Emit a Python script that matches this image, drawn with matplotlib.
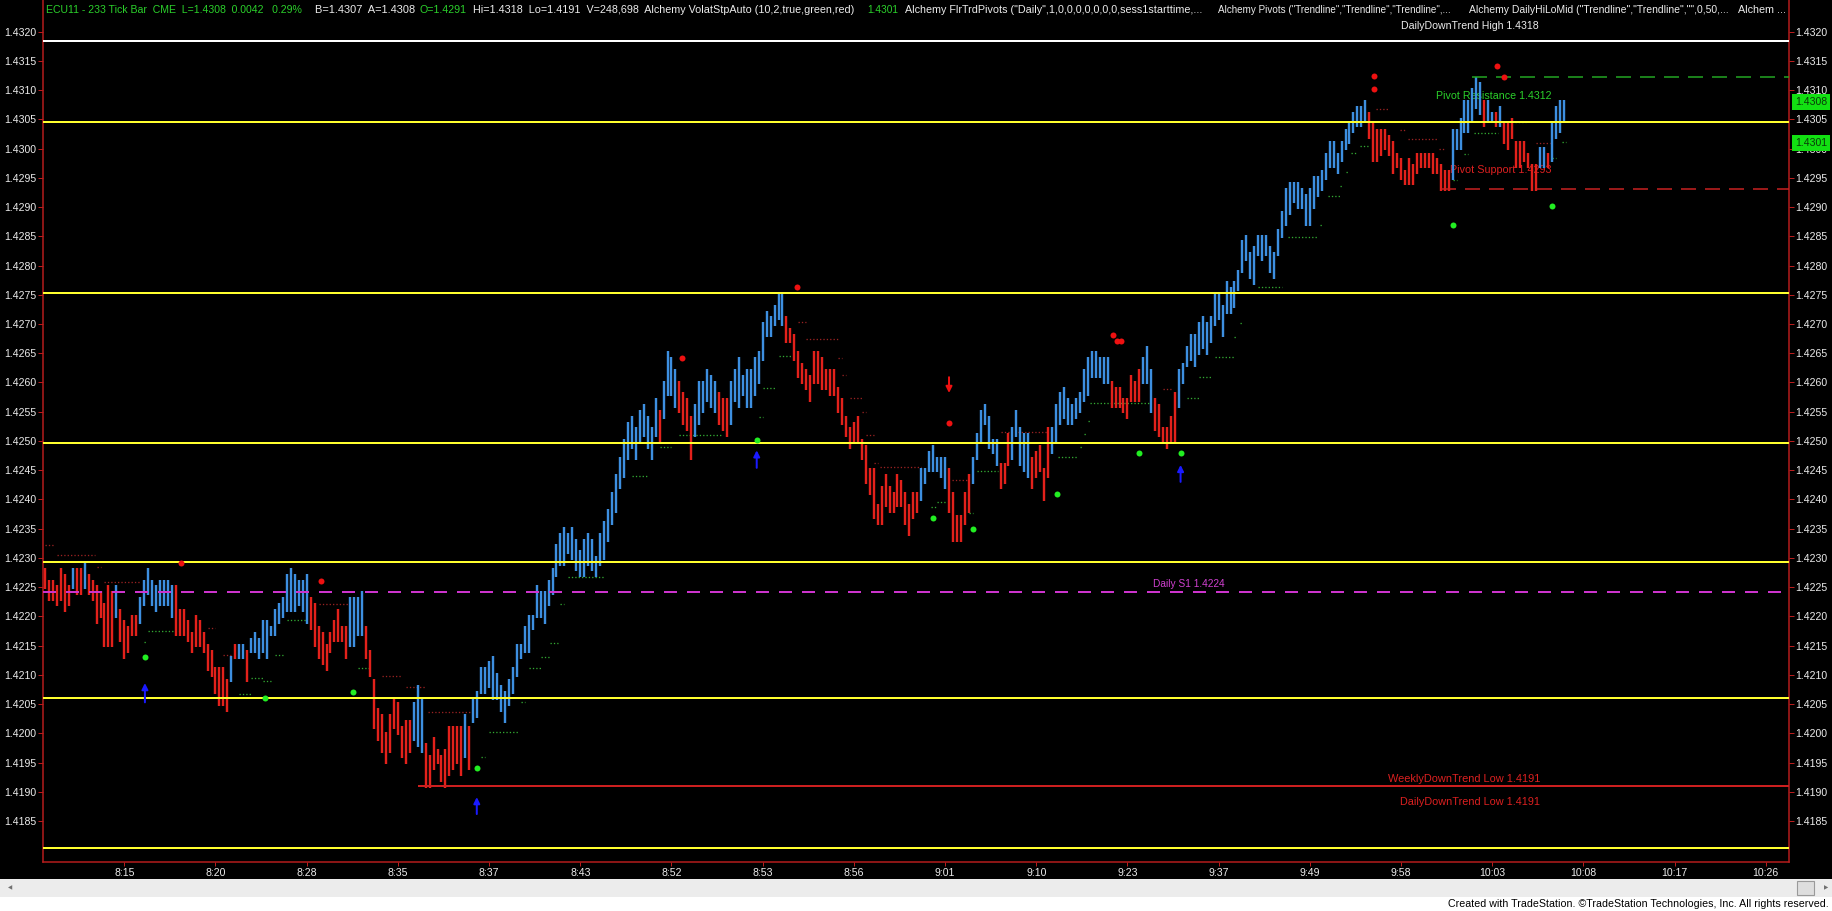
import matplotlib
matplotlib.use("Agg")
import matplotlib.pyplot as plt
from matplotlib import font_manager
from matplotlib.patches import Rectangle
from matplotlib.transforms import blended_transform_factory

# ---------------------------------------------------------------- data
BASE = 1.4200          # bar values below are pips (0.0001) above this base
PIP = 0.0001

bar_colors = (
    "rrrrrrrbrrbrrrrrrrbrrrrrbbbbbbbbbrrrrrrrrrrrrrrbrbbrbbbbbbbbbbbbbbbrrrrrrrrrrbbbbrr"
    "rrrrrrrrrrbbbrrrrrrrrrrbrbbbbbbbbbbbbbbbbbbbbbbb"
    "bbbbbbbbbb"
    "bbbbbbbbbbbbbbrbbbbrrrrbbbbbbrrrbb"
    "bbbbbbbbbbbb" "rrrrrrrrrrrrrrrrrrrrrrrrrrrrrrrrrr" "bbbbbbb" "rrrrrr" "bbbbbbb"
    "rrr" "bbbbb" "rrrrr" "bbbbbbbbbbbbbbb" "rrrrrrrr"
    "bbb" "rrrrrr" "bbbbbbbbbbbbbbbbbbbbbbbbbbbbbbbbbbbbbbbbbbbbbbbb" "rrrrrrrrrrrrrrrrrrrrr"
    "bbbbbbbb" "r" "bb" "r" "b" "rrrrrrrrr" "bb" "r" "bbbb"
)

bar_highs = [
    28, 26, 26, 25, 28, 27, 25, 28, 28, 28, 29, 27, 26, 25, 24, 22, 25, 24, 25, 21,
    19, 18, 20, 20, 23, 26, 28, 26, 25, 26, 26, 26, 25, 25, 21, 21, 19, 17, 20, 19,
    17, 15, 14, 11, 11, 11, 9, 13, 15, 15, 15, 14, 16, 17, 16, 19, 19, 18, 21, 22,
    23, 27, 28, 27, 26, 26, 27, 23, 22, 18, 17, 15, 17, 19, 21, 18, 18, 23, 23, 23,
    24, 18, 14,
    9, 4, 3, 0, 3, 6, 5, 1, 2, 2, 5, 8, 6, -2, -4, -1, -3, -4, -3, 1, 1, 1, 1, 3, 1,
    6, 7, 11, 11, 12, 13, 10, 8, 7, 9, 11, 15, 15, 18, 20, 20, 25, 24, 24, 26, 28, 32, 34,
    35, 34, 35, 33, 31, 33, 34, 33, 30, 34,
    36, 38, 41, 44, 47, 50, 53, 54, 52, 55, 56, 54, 52, 57, 55, 60, 65, 64, 62, 60,
    58, 57, 54, 56, 60, 60, 62, 61, 60, 58, 57, 57, 60, 62,
    64, 61, 62, 62, 64, 65, 70, 72, 71, 73, 75, 75,
    71, 69, 68, 65, 63, 62, 61, 65, 65, 64, 62, 62, 62, 59, 57, 54, 52, 53, 54, 50,
    49, 45, 45, 39, 42, 44, 42, 41, 44, 43, 41, 39, 41, 41,
    45, 45, 48, 49, 47, 47, 47, 45, 41, 37, 37, 41, 44, 47, 51, 55, 56, 54, 50, 50,
    46, 46, 51, 52, 55, 52, 51, 51, 47, 48, 49, 45, 52,
    52, 56, 58, 59, 57, 56, 57, 58, 62, 64, 65, 65, 64, 64, 64, 60, 59, 59, 57, 57, 61, 60, 62,
    64, 66, 62, 57, 56, 52, 52, 54, 58,
    62, 63, 66, 68, 68, 70, 71, 70, 71, 75, 75, 73, 77, 76, 77, 79, 84, 85, 82, 83,
    85, 85, 85, 83, 82, 86, 89, 93, 94, 94, 94, 93, 92, 93, 95, 95, 96, 99, 101, 101,
    99, 101, 103, 104, 106, 107, 107, 108,
    106, 104, 103, 103, 103, 102, 101, 99, 98, 96, 98, 97, 99, 99, 99, 99, 99, 98, 97, 96, 96,
    103, 103, 105, 108, 108, 110, 112, 111, 108, 108, 106, 106, 107, 104, 104, 105,
    101, 101, 101, 99, 97, 97, 100, 100, 99, 104, 107, 108, 108,
]

bar_lows = [
    25, 23, 23, 22, 23, 21, 22, 25, 24, 24, 25, 24, 23, 19, 20, 15, 15, 15, 20, 16,
    13, 14, 17, 17, 19, 22, 24, 22, 21, 22, 22, 22, 20, 17, 17, 17, 16, 14, 15, 15,
    14, 11, 10, 7, 5, 5, 4, 9, 13, 13, 13, 9, 14, 14, 13, 14, 13, 17, 17, 19,
    20, 21, 21, 21, 22, 21, 19, 18, 15, 13, 12, 11, 14, 16, 16, 16, 13, 15, 15, 17,
    17, 13, 10,
    1, -1, -3, -5, -3, 1, 0, -4, -5, -3, -1, -2, -3, -9, -9, -6, -5, -8, -9, -7, -6, -5, -7, -4, -6,
    2, 3, 7, 7, 8, 6, 6, 4, 2, 5, 7, 10, 13, 14, 14, 18, 20, 20, 19, 22, 24, 27, 29,
    29, 31, 30, 28, 27, 27, 29, 28, 27, 29,
    30, 33, 36, 38, 42, 44, 47, 49, 47, 50, 51, 49, 47, 51, 50, 54, 58, 58, 56, 55,
    53, 52, 47, 51, 53, 55, 57, 56, 55, 53, 52, 51, 53, 57,
    56, 58, 56, 56, 58, 60, 64, 68, 68, 70, 71, 70,
    67, 67, 64, 61, 60, 59, 57, 60, 60, 59, 59, 58, 58, 55, 53, 51, 49, 50, 50, 47,
    43, 41, 37, 36, 36, 39, 38, 38, 39, 39, 36, 34, 37, 38,
    40, 43, 45, 45, 45, 44, 42, 38, 33, 33, 33, 36, 38, 43, 47, 50, 53, 49, 48, 46,
    42, 43, 46, 47, 51, 46, 45, 44, 42, 44, 45, 40, 44,
    48, 50, 53, 54, 53, 53, 54, 55, 57, 58, 61, 61, 61, 60, 60, 56, 56, 56, 55, 54, 57, 57, 57,
    60, 60, 55, 52, 51, 50, 49, 50, 50,
    56, 60, 63, 64, 63, 65, 66, 65, 67, 70, 71, 68, 72, 72, 73, 76, 79, 81, 78, 77,
    82, 81, 82, 79, 78, 82, 85, 87, 89, 91, 90, 90, 87, 87, 90, 92, 93, 95, 97, 97,
    96, 98, 100, 101, 103, 104, 104, 105,
    102, 98, 98, 99, 100, 99, 96, 97, 95, 94, 94, 94, 96, 97, 97, 97, 96, 96, 93, 93, 93,
    95, 100, 100, 103, 103, 105, 107, 106, 104, 105, 105, 104, 104, 101, 100, 102,
    97, 97, 98, 97, 93, 93, 97, 97, 97, 98, 102, 103, 105,
]

time_labels = ["8:15", "8:20", "8:28", "8:35", "8:37", "8:43", "8:52", "8:53", "8:56", "9:01",
               "9:10", "9:23", "9:37", "9:49", "9:58", "10:03", "10:08", "10:17", "10:26"]
first_label_bar = 20
bars_per_label = 23

price_ticks = [round(1.4185 + 0.0005 * k, 4) for k in range(28)]

# horizontal levels
daily_high = 1.43184
yellow_levels = [1.43046, 1.42753, 1.42497, 1.42293, 1.42061, 1.41804]
daily_s1 = 1.42242
weekly_low, weekly_low_from = 1.4191, 94
pivot_res, pivot_res_from = 1.43122, 360
pivot_sup, pivot_sup_from = 1.42930, 352

# swing markers (bar position, pips above base)
red_dot_bar = [34.3, 69.6, 160.7, 189.6, 227.9, 269.3, 270.3, 271.4, 335.1, 335.1, 366.1, 367.9]
red_dot_pips = [29.1, 26.0, 64.1, 76.3, 53.0, 68.1, 67.1, 67.1, 112.4, 110.1, 114.1, 112.2]
green_dot_bar = [25.2, 55.5, 77.8, 108.9, 179.5, 223.9, 234.0, 255.2, 276.0, 286.4, 355.0, 380.2]
green_dot_pips = [13.0, 6.0, 7.0, -6.0, 50.15, 36.9, 35.0, 41.0, 48.0, 48.0, 87.0, 90.2]
up_arrow_bar = [25.2, 108.9, 179.5, 286.4]
up_arrow_tip = [8.6, -10.9, 48.4, 45.9]
up_arrow_tail = [5.3, -13.8, 45.4, 43.0]
down_arrow_bar = [228.0]
down_arrow_tip = [58.2]
down_arrow_tail = [60.9]

# volatility stop segments (from bar, to bar, pips, side)
stop_from = [0, 3, 13, 15, 25, 26, 41, 45, 49, 52,
             55, 58, 61, 69, 79, 85, 91, 96.6, 110, 112,
             120, 122, 125, 127.4, 130, 132, 148, 155, 160, 180,
             181, 185, 190, 192, 200, 201, 203, 206, 207, 209,
             210.6, 223.5, 225, 228.7, 233, 235, 241, 255.5, 261, 262,
             263, 263.5, 282, 288, 291, 295, 300, 301.3, 306, 313.5,
             321.5, 323.6, 326.6, 328, 329.5, 331.6, 335.8, 341.7, 343.8, 351.5,
             355, 358, 360.5, 370.7, 376, 380, 382.5]
stop_to = [2.5, 12.6, 14, 24, 25.5, 34, 43, 47, 52, 55,
           57, 60, 66, 77, 82, 90, 96, 108, 111, 119.5,
           121, 125, 127.4, 129.4, 131, 141, 152, 158, 171, 181,
           184, 189, 192, 200, 201, 202, 206, 207, 209, 210,
           221, 225, 227.5, 233, 234, 240.4, 253, 260.6, 261.5, 262.5,
           263.5, 279, 284, 291, 294, 300, 300.5, 302, 312, 321,
           322, 326.6, 327, 329, 331, 333.7, 339, 343, 351, 353,
           356, 359, 366.5, 373.6, 379.5, 381, 383.5]
stop_level = [32.2, 30.5, 28.5, 25.8, 15.7, 17.5, 18.0, 13.4, 6.8, 9.4,
              9.0, 13.4, 19.4, 22.2, 11.2, 9.8, 8.0, 3.6, -4.0, 0.3,
              5.4, 11.1, 13.1, 15.4, 22.2, 26.8, 44.0, 49.0, 51.1, 54.1,
              59.0, 64.6, 70.4, 67.4, 64.1, 61.3, 57.4, 55.0, 51.0, 46.2,
              45.5, 38.7, 39.6, 43.4, 37.6, 44.8, 51.6, 47.2, 48.9, 51.2,
              53.4, 56.5, 58.8, 57.3, 60.9, 64.4, 67.7, 70.1, 76.4, 84.9,
              86.9, 91.9, 93.6, 96.0, 99.3, 100.4, 106.7, 103.2, 101.6, 100.0,
              94.7, 99.0, 102.6, 104.6, 100.9, 98.3, 101.2]
stop_side = ("rrrrggrrgg" "gggrgrrrgg" "gggggggggg" "ggrrrrrrrr"
             "rggrggrggg" "ggrggggggg" "ggggggrrrr" "ggggrgg")

last_quote = ("1.4308", 1.4308)
stop_quote = ("1.4301", 1.4301)

# ---------------------------------------------------------------- layout / style
W, H, DPI = 1832, 911, 100
PX = 72.0 / DPI
AX_L, AX_R, AX_B = 43, 1789, 862
X_LEFT, X_RIGHT = -0.504, 439.85
Y_LOW, Y_HIGH = 1.41780, 1.43254

BLUE = "#3d8fe0"
RED = "#e3211b"
YELLOW = "#ffff2e"
SPINE = "#b81d1d"
TXT = "#ececec"
GREEN_T = "#2bd12b"

avail = {f.name for f in font_manager.fontManager.ttflist}


def pick(*names):
    for n in names:
        if n in avail:
            return n
    return "DejaVu Sans"


NARROW = pick("Liberation Sans Narrow", "Arial Narrow", "DejaVu Sans Condensed", "Liberation Sans")
SANS = pick("Liberation Sans", "Arimo", "DejaVu Sans")
plt.rcParams["font.family"] = [SANS, "DejaVu Sans"]

fig = plt.figure(figsize=(W / DPI, H / DPI), dpi=DPI, facecolor="black")
ax = fig.add_axes([AX_L / W, 1 - AX_B / H, (AX_R - AX_L) / W, AX_B / H])
ax.set_facecolor("black")
ax.set_xlim(X_LEFT, X_RIGHT)
ax.set_ylim(Y_LOW, Y_HIGH)


def price(p):
    return BASE + p * PIP


# bars
xs = list(range(len(bar_highs)))
ax.vlines(xs, [price(v) - 0.3 * PIP for v in bar_lows], [price(v) + 0.3 * PIP for v in bar_highs],
          colors=[BLUE if c == "b" else RED for c in bar_colors],
          lw=2.4 * PX, zorder=5)

# stop dots
for a, b, lv, sd in zip(stop_from, stop_to, stop_level, stop_side):
    ax.plot([a, b], [price(lv), price(lv)], ls=(0, (1, 1.6)), lw=1.3 * PX,
            color="#33aa33" if sd == "g" else "#9a2222", zorder=4)

# horizontal levels
ax.axhline(daily_high, color="white", lw=2 * PX, zorder=6)
for lv in yellow_levels:
    ax.axhline(lv, color=YELLOW, lw=2 * PX, zorder=6)
ax.axhline(daily_s1, color="#cc33cc", lw=2 * PX, ls=(0, (6.5, 5)), zorder=6)
ax.plot([weekly_low_from, X_RIGHT], [weekly_low, weekly_low], color="#cc1f1f",
        lw=2 * PX, zorder=6, solid_capstyle="butt")
ax.plot([pivot_res_from, X_RIGHT], [pivot_res, pivot_res], color="#23a823",
        lw=1.5 * PX, ls=(0, (10, 6)), zorder=6)
ax.plot([pivot_sup_from, X_RIGHT], [pivot_sup, pivot_sup], color="#cc2222",
        lw=1.5 * PX, ls=(0, (10, 6)), zorder=6)

# markers
ax.plot(red_dot_bar, [price(v) for v in red_dot_pips], "o", ms=6 * PX,
        color="#ee1111", mec="none", zorder=7)
ax.plot(green_dot_bar, [price(v) for v in green_dot_pips], "o", ms=6 * PX,
        color="#22ee22", mec="none", zorder=7)
for b, tip, tail in zip(up_arrow_bar, up_arrow_tip, up_arrow_tail):
    ax.annotate("", xy=(b, price(tip)), xytext=(b, price(tail)),
                arrowprops=dict(arrowstyle="-|>", color="#1a1aff", lw=2 * PX,
                                mutation_scale=9, shrinkA=0, shrinkB=0), zorder=7)
for b, tip, tail in zip(down_arrow_bar, down_arrow_tip, down_arrow_tail):
    ax.annotate("", xy=(b, price(tip)), xytext=(b, price(tail)),
                arrowprops=dict(arrowstyle="-|>", color="#ee1111", lw=2 * PX,
                                mutation_scale=9, shrinkA=0, shrinkB=0), zorder=7)

# axes cosmetics
for s in ("left", "right", "bottom"):
    ax.spines[s].set_color(SPINE)
    ax.spines[s].set_linewidth(1.5 * PX)
ax.spines["top"].set_visible(False)

ax.set_yticks(price_ticks)
ax.set_yticklabels([f"{t:.4f}" for t in price_ticks])
ax.tick_params(axis="y", which="both", left=True, right=True, labelleft=True,
               labelright=True, direction="out", length=5 * PX, width=1 * PX,
               color=SPINE, labelcolor=TXT, labelsize=7.6, pad=1.5 * PX)
tick_pos = [first_label_bar + bars_per_label * k for k in range(len(time_labels))]
ax.set_xticks(tick_pos)
ax.set_xticklabels(time_labels)
ax.tick_params(axis="x", direction="out", length=4 * PX, width=1 * PX, color=SPINE,
               labelcolor=TXT, labelsize=7.6, pad=1.5 * PX)

# quote boxes on the right axis
bt = blended_transform_factory(ax.transAxes, ax.transData)
for txt, val in (last_quote, stop_quote):
    ax.text(1.0 + 6 / (AX_R - AX_L), val, txt, transform=bt, ha="left", va="center",
            fontsize=7.6, color="#0a3a0a", clip_on=False, zorder=8,
            bbox=dict(boxstyle="square,pad=0.3", fc="#12e012", ec="none"))

rend = fig.canvas.get_renderer()


def label(px, py, s, color, size, width=None, ha="left", family=None, z=3, where=ax):
    t = where.text(px / W, 1 - py / H, s, color=color, fontsize=size, ha=ha, va="center",
                   family=[family or NARROW, "DejaVu Sans"], transform=fig.transFigure,
                   zorder=z, clip_on=False)
    if width:
        w = t.get_window_extent(renderer=rend).width
        if w > 0:
            t.set_fontsize(size * width / w)
    return t


# header line
hdr = [
    (46, 304, "ECU11 - 233 Tick Bar  CME  L=1.4308  0.0042   0.29%", GREEN_T),
    (315, 415, "B=1.4307  A=1.4308", TXT),
    (420, 467, "O=1.4291", GREEN_T),
    (473, 854, "Hi=1.4318  Lo=1.4191  V=248,698  Alchemy VolatStpAuto (10,2,true,green,red)", TXT),
    (867, 898, "1.4301", GREEN_T),
    (905, 1201, "Alchemy FlrTrdPivots (\"Daily\",1,0,0,0,0,0,0,0,sess1starttime,...", TXT),
    (1218, 1453, "Alchemy Pivots (\"Trendline\",\"Trendline\",\"Trendline\",...", TXT),
    (1469, 1728, "Alchemy DailyHiLoMid (\"Trendline\",\"Trendline\",\"\",0,50,...", TXT),
    (1738, 1786, "Alchem ...", TXT),
]
for x0, x1, s, c in hdr:
    label(x0, 10, s, c, 8, width=x1 - x0, z=9)

# level labels (drawn beneath the bars)
label(1539, 26, "DailyDownTrend High 1.4318", TXT, 8, width=138, ha="right", z=4)
label(1552, 96, "Pivot Resistance 1.4312", GREEN_T, 8.5, width=115, ha="right", z=4)
label(1552, 170, "Pivot Support 1.4293", "#dd2020", 8.5, width=100, ha="right", z=4)
label(1225, 584, "Daily S1 1.4224", "#d040d0", 8, width=72, ha="right", z=4)
label(1540, 779, "WeeklyDownTrend Low 1.4191", "#dd2020", 8, width=153, ha="right", z=4)
label(1540, 802, "DailyDownTrend Low 1.4191", "#dd2020", 8, width=140, ha="right", z=4)

# bottom strips: scrollbar and footer
fig.add_artist(Rectangle((0, (H - 897) / H), 1, 18 / H, transform=fig.transFigure,
                         fc="#ececec", ec="none"))
fig.add_artist(Rectangle((0, 0), 1, (H - 897) / H, transform=fig.transFigure,
                         fc="white", ec="none"))
fig.add_artist(Rectangle((1797 / W, (H - 895) / H), 17 / W, 14 / H, transform=fig.transFigure,
                         fc="#dedede", ec="#9a9a9a", lw=0.8))
fig.text(8 / W, 1 - 888 / H, "\u25c0", fontsize=4, color="#707070", va="center",
         family="DejaVu Sans")
fig.text(1824 / W, 1 - 888 / H, "\u25b6", fontsize=4, color="#707070", va="center",
         family="DejaVu Sans")
label(1829, 904, "Created with TradeStation. \u00a9TradeStation Technologies, Inc. All rights reserved.",
      "black", 8, width=376, ha="right", z=9, where=fig)

fig.savefig("out.png", dpi=DPI, facecolor="black")
